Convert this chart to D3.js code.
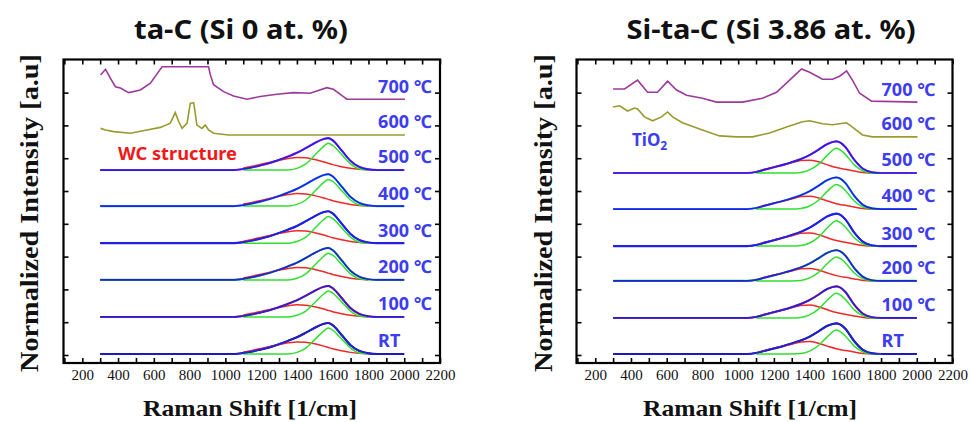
<!DOCTYPE html>
<html>
<head>
<meta charset="utf-8">
<script src="https://cdn.jsdelivr.net/npm/d3@7"></script>
<style>
  body { margin: 0; background: #fff; }
  svg { display: block; }
</style>
</head>
<body>
<svg id="chart" width="972" height="422"></svg>
<script>
// ---- shared axis data ----
const shiftTicks = [200, 400, 600, 800, 1000, 1200, 1400, 1600, 1800, 2000, 2200];
const tempLabels = ["RT", "100 ℃", "200 ℃", "300 ℃", "400 ℃", "500 ℃", "600 ℃", "700 ℃"];
const rawColors = ["#0c0c40", "#ee2020", "#20d020", "#2020e8", "#2ad0f4", "#e420e4"];

// Raman shift (cm^-1) sample points of the fitted spectra and of the D/G bands
const fitShift  = [300, 1050, 1100, 1150, 1200, 1250, 1300, 1350, 1400, 1450, 1500, 1550, 1575, 1600, 1650, 1700, 1750, 1800, 1850, 2000];
const bandShift = [1100, 1150, 1200, 1250, 1300, 1350, 1400, 1450, 1500, 1550, 1575, 1600, 1650, 1700, 1750, 1800];

// ---- ta-C (Si 0 at. %) ----
const taCOffsets = [0.03, 1.16, 2.29, 3.41, 4.54, 5.64, 6.71, 7.80];
const taCScale   = [1.00, 1.00, 1.03, 1.03, 1.03, 1.03];
const taCFit   = [0, 0, 0.03, 0.08, 0.14, 0.21, 0.30, 0.40, 0.51, 0.65, 0.80, 0.92, 0.945, 0.88, 0.58, 0.27, 0.09, 0.02, 0, 0];
const taCGBand = [0, 0, 0, 0, 0, 0, 0.05, 0.18, 0.44, 0.70, 0.79, 0.73, 0.46, 0.18, 0.03, 0];
const taCDBand = [0.06, 0.11, 0.17, 0.23, 0.29, 0.34, 0.37, 0.36, 0.31, 0.24, 0.20, 0.16, 0.10, 0.05, 0.02, 0];
const taC600Shift = [302, 330, 376, 469, 562, 637, 692, 720, 739, 758, 786, 804, 823, 841, 869, 888, 906, 934, 1018, 2004];
const taC600      = [0.20, 0.15, 0.10, 0.05, 0.15, 0.23, 0.36, 0.68, 0.41, 0.20, 0.36, 0.97, 0.98, 0.30, 0.20, 0.30, 0.15, 0.05, 0, 0];
const taC700Shift = [302, 330, 357, 385, 413, 460, 525, 581, 627, 646, 906, 916, 934, 990, 1046, 1121, 1195, 1288, 1381, 1474, 1567, 1604, 1660, 1679, 2004];
const taC700      = [0.74, 0.91, 0.64, 0.38, 0.34, 0.20, 0.28, 0.49, 0.84, 0.99, 0.99, 0.74, 0.44, 0.23, 0.10, 0, 0.08, 0.15, 0.20, 0.18, 0.35, 0.30, 0.08, 0, 0];

// ---- Si-ta-C (Si 3.86 at. %) ----
const siOffsets = [0.03, 1.13, 2.26, 3.32, 4.45, 5.55, 6.65, 7.71];
const siScale   = [1.00, 1.03, 1.00, 1.06, 1.03, 1.03];
const siFit   = [0, 0, 0.03, 0.10, 0.17, 0.24, 0.32, 0.41, 0.53, 0.69, 0.86, 0.935, 0.89, 0.77, 0.39, 0.12, 0.02, 0, 0, 0];
const siGBand = [0, 0, 0, 0, 0, 0.015, 0.09, 0.26, 0.53, 0.73, 0.67, 0.55, 0.24, 0.06, 0, 0];
const siDBand = [0.03, 0.11, 0.18, 0.24, 0.30, 0.37, 0.38, 0.33, 0.24, 0.16, 0.13, 0.11, 0.06, 0.015, 0, 0];
const si600Shift = [300, 336, 381, 420, 437, 476, 521, 571, 605, 633, 688, 800, 896, 991, 1080, 1176, 1271, 1360, 1400, 1472, 1528, 1607, 1640, 1696, 1752, 2004];
const si600      = [0.91, 0.95, 0.79, 0.88, 0.85, 0.61, 0.49, 0.61, 0.76, 0.61, 0.43, 0.21, 0.03, 0, 0, 0.12, 0.30, 0.46, 0.49, 0.40, 0.37, 0.43, 0.30, 0.06, 0, 0];
const si700Shift = [300, 364, 437, 493, 548, 605, 655, 711, 800, 879, 1024, 1136, 1215, 1288, 1355, 1400, 1472, 1528, 1568, 1607, 1640, 1680, 1747, 2004];
const si700      = [0.40, 0.40, 0.67, 0.30, 0.30, 0.64, 0.37, 0.21, 0.12, 0, 0, 0.12, 0.30, 0.67, 1.01, 0.91, 0.70, 0.70, 0.79, 0.95, 0.67, 0.27, 0.03, 0];

// ---- drawing ----
const svg = d3.select("#chart");
const plotTop = 59.5, plotBottom = 363;
const y = d3.scaleLinear().domain([-0.244, 9.01]).range([plotBottom, plotTop]);

const labelBlue = "#3c3cf0";
const fitBlue = "#2020e6", gGreen = "#30e030", dRed = "#f02828";
const c600 = "#9a9a2e", c700 = "#9c3a9c";

function drawPanel(opt) {
  const x = d3.scaleLinear().domain([95, 2200]).range([opt.x0, opt.x1]);
  const g = svg.append("g");
  const hundreds = d3.range(100, 2201, 100);

  const line = d3.line().x(d => x(d[0])).y(d => y(d[1]));
  const smooth = d3.line().x(d => x(d[0])).y(d => y(d[1])).curve(d3.curveMonotoneX);

  // annealed spectra (600 / 700 ℃)
  g.append("path")
    .attr("d", line(opt.s600Shift.map((s, i) => [s, opt.offsets[6] + opt.s600[i]])))
    .attr("fill", "none").attr("stroke", c600).attr("stroke-width", 1.6);
  g.append("path")
    .attr("d", line(opt.s700Shift.map((s, i) => [s, opt.offsets[7] + opt.s700[i]])))
    .attr("fill", "none").attr("stroke", c700).attr("stroke-width", 1.6);

  // RT – 500 ℃: measured spectrum, D band, G band and fitted sum
  for (let k = 0; k < 6; k++) {
    const off = opt.offsets[k], sc = opt.scale[k];
    const fitPts = fitShift.map((s, i) => [s, off + sc * opt.fit[i]]);
    g.append("path").attr("d", smooth(fitPts))
      .attr("fill", "none").attr("stroke", rawColors[k]).attr("stroke-width", 2.1);
    g.append("path").attr("d", smooth(bandShift.map((s, i) => [s, off + sc * opt.dBand[i]])))
      .attr("fill", "none").attr("stroke", dRed).attr("stroke-width", 1.5);
    g.append("path").attr("d", smooth(bandShift.map((s, i) => [s, off + sc * opt.gBand[i]])))
      .attr("fill", "none").attr("stroke", gGreen).attr("stroke-width", 1.5);
    g.append("path").attr("d", smooth(fitPts))
      .attr("fill", "none").attr("stroke", fitBlue).attr("stroke-width", 1.7);
  }

  // temperature labels
  g.selectAll("text.temp").data(tempLabels).join("text")
    .attr("class", "temp")
    .attr("x", x(opt.labelShift))
    .attr("y", (d, i) => y(opt.offsets[i] + 0.2))
    .attr("fill", labelBlue)
    .attr("font-family", "'Noto Sans', 'DejaVu Sans', sans-serif")
    .attr("font-weight", "bold").attr("font-size", 18)
    .text(d => d);

  // axes (ticks pointing inward)
  const bottomAxis = g.append("g").attr("transform", `translate(0,${plotBottom})`)
    .call(d3.axisBottom(x).tickValues(hundreds).tickSizeInner(-5).tickSizeOuter(0).tickPadding(6)
      .tickFormat(d => shiftTicks.includes(d) ? d : ""));
  g.append("g").attr("transform", `translate(0,${plotTop})`)
    .call(d3.axisTop(x).tickValues(hundreds).tickSizeInner(-5).tickSizeOuter(0).tickFormat(""));
  g.append("g").attr("transform", `translate(${opt.x0},0)`)
    .call(d3.axisLeft(y).tickValues(d3.range(0, 9)).tickSizeInner(-5).tickSizeOuter(0).tickFormat(""));
  g.append("g").attr("transform", `translate(${opt.x1},0)`)
    .call(d3.axisRight(y).tickValues(d3.range(0, 9)).tickSizeInner(-5).tickSizeOuter(0).tickFormat(""));
  g.selectAll(".domain").remove();
  g.selectAll(".tick line").attr("stroke", "#000").attr("stroke-width", 1.6);
  bottomAxis.selectAll("text")
    .attr("font-family", "'Liberation Serif', 'Times New Roman', serif")
    .attr("font-size", 15).attr("fill", "#111");

  g.append("rect")
    .attr("x", opt.x0).attr("y", plotTop)
    .attr("width", opt.x1 - opt.x0).attr("height", plotBottom - plotTop)
    .attr("fill", "none").attr("stroke", "#000").attr("stroke-width", 2.2);

  // titles
  svg.append("text")
    .attr("x", opt.titleX).attr("y", 39)
    .attr("text-anchor", "middle")
    .attr("font-family", "'Noto Sans', 'Open Sans', sans-serif")
    .attr("font-weight", "bold").attr("font-size", 26)
    .attr("textLength", opt.titleLen).attr("lengthAdjust", "spacingAndGlyphs")
    .attr("fill", "#111")
    .text(opt.title);

  svg.append("text")
    .attr("x", opt.xTitleX).attr("y", 416)
    .attr("text-anchor", "middle")
    .attr("font-family", "'Liberation Serif', 'Times New Roman', serif")
    .attr("font-weight", "bold").attr("font-size", 24)
    .attr("textLength", 214).attr("lengthAdjust", "spacingAndGlyphs")
    .attr("fill", "#111")
    .text("Raman Shift [1/cm]");

  svg.append("text")
    .attr("transform", `translate(${opt.yTitleX},213) rotate(-90)`)
    .attr("text-anchor", "middle")
    .attr("font-family", "'Liberation Serif', 'Times New Roman', serif")
    .attr("font-weight", "bold").attr("font-size", 26)
    .attr("textLength", 318).attr("lengthAdjust", "spacingAndGlyphs")
    .attr("fill", "#111")
    .text("Normalized Intensity [a.u]");

  return { g, x };
}

const left = drawPanel({
  x0: 63.5, x1: 440, title: "ta-C (Si 0 at. %)", titleX: 241, titleLen: 214,
  xTitleX: 250, yTitleX: 38, labelShift: 1854,
  offsets: taCOffsets, scale: taCScale, fit: taCFit, gBand: taCGBand, dBand: taCDBand,
  s600Shift: taC600Shift, s600: taC600, s700Shift: taC700Shift, s700: taC700
});
left.g.append("text")
  .attr("x", 118).attr("y", 160)
  .attr("fill", "#f01818")
  .attr("font-family", "'Noto Sans', sans-serif")
  .attr("font-weight", "bold").attr("font-size", 17)
  .attr("textLength", 119).attr("lengthAdjust", "spacingAndGlyphs")
  .text("WC structure");

const right = drawPanel({
  x0: 576.5, x1: 952.5, title: "Si-ta-C (Si 3.86 at. %)", titleX: 771, titleLen: 289,
  xTitleX: 750, yTitleX: 552, labelShift: 1803,
  offsets: siOffsets, scale: siScale, fit: siFit, gBand: siGBand, dBand: siDBand,
  s600Shift: si600Shift, s600: si600, s700Shift: si700Shift, s700: si700
});
const tio2 = right.g.append("text")
  .attr("x", 632).attr("y", 146)
  .attr("fill", labelBlue)
  .attr("font-family", "'Noto Sans', sans-serif")
  .attr("font-weight", "bold").attr("font-size", 17);
tio2.append("tspan").text("TiO");
tio2.append("tspan").attr("font-size", 12).attr("dy", 4).text("2");
</script>
</body>
</html>
